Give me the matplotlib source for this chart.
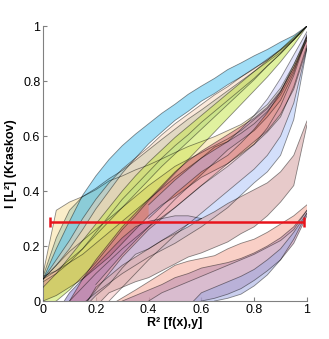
import matplotlib
matplotlib.use("Agg")
import matplotlib.pyplot as plt

plt.rcParams['font.family'] = ['Liberation Sans', 'DejaVu Sans']

X21 = [0, .05, .1, .15, .2, .25, .3, .35, .4, .45, .5, .55, .6, .65, .7, .75, .8, .85, .9, .95, 1]

# group 1 (converging at (1,1))
blue_x = X21
blue_up = [.08, .19, .29, .385, .455, .515, .565, .607, .645, .683, .716, .752, .782, .81, .842, .866, .892, .915, .942, .966, 1]
blue_lo = [.08, .13, .19, .26, .335, .40, .465, .52, .572, .615, .657, .69, .727, .755, .787, .815, .847, .876, .912, .951, 1]

peach_x = X21
peach_up = [.08, .15, .22, .30, .37, .43, .48, .52, .56, .605, .645, .68, .715, .75, .78, .815, .845, .88, .915, .955, 1]
peach_lo = [.07, .10, .14, .19, .25, .31, .37, .42, .47, .52, .565, .605, .65, .69, .73, .77, .81, .855, .90, .95, 1]

sage_x = X21
sage_up = [.09, .23, .33, .38, .41, .445, .475, .512, .55, .588, .625, .662, .695, .73, .765, .80, .835, .87, .905, .95, 1]
sage_lo = [.08, .11, .15, .19, .24, .29, .34, .39, .44, .49, .535, .58, .625, .67, .715, .76, .805, .855, .90, .95, 1]

yellow_x = X21
yellow_up = [.10, .33, .36, .38, .405, .437, .455, .477, .495, .517, .54, .562, .58, .598, .62, .642, .675, .715, .775, .86, .96]
yellow_lo = [.09, .11, .14, .17, .21, .25, .29, .33, .37, .41, .45, .485, .52, .56, .58, .61, .645, .69, .75, .84, .95]

lime_x = X21
lime_up = [.05, .10, .16, .22, .28, .34, .40, .455, .505, .55, .595, .635, .675, .715, .755, .795, .835, .875, .915, .96, 1]
lime_lo = [-.02, .0, .04, .09, .14, .20, .26, .31, .365, .415, .465, .515, .565, .615, .665, .715, .765, .815, .87, .93, 1]

orange_x = X21
orange_up = [.08, .13, .18, .22, .26, .30, .34, .38, .42, .455, .49, .515, .54, .565, .59, .62, .66, .70, .76, .85, .96]
orange_lo = [.0, .02, .05, .08, .12, .16, .21, .26, .31, .35, .38, .415, .45, .475, .50, .535, .57, .615, .67, .78, .93]

# group 2
purple_x = [.08, .1, .15, .2, .25, .3, .35, .4, .45, .5, .55, .6]
purple_up = [0, .03, .08, .13, .18, .23, .27, .29, .30, .31, .31, .30]
purple_lo = [-.1, -.07, -.03, .02, .06, .12, .17, .19, .22, .25, .28, .30]

rose_x = [.1, .15, .2, .25, .3, .35, .4, .45, .5, .55, .6, .65, .7, .75, .8, .85, .9, .95, 1]
rose_up = [0, .08, .15, .21, .27, .32, .37, .42, .47, .51, .545, .575, .605, .635, .665, .705, .765, .85, .95]
rose_lo = [-.08, -.02, .04, .10, .16, .21, .26, .30, .34, .38, .42, .46, .50, .54, .58, .62, .68, .77, .92]

lav_x = [.4, .5, .6, .65, .7, .75, .8, .85, .9, .95, 1]
lav_up = [.35, .44, .52, .55, .58, .625, .675, .735, .81, .895, .98]
lav_lo = [.30, .39, .47, .50, .53, .575, .625, .685, .76, .86, .965]

lpink_x = [.2, .3, .4, .5, .6, .7, .8, .85, .9, .95, 1]
lpink_up = [.06, .17, .27, .37, .46, .55, .62, .67, .73, .83, .97]
lpink_lo = [-.05, .05, .15, .24, .32, .40, .48, .53, .60, .72, .92]

lblue_x = [.1, .2, .3, .4, .5, .6, .7, .8, .85, .9, .95, 1]
lblue_up = [0, .10, .19, .27, .34, .42, .49, .57, .63, .71, .82, .96]
lblue_lo = [-.05, .03, .10, .16, .21, .27, .34, .43, .47, .53, .66, .92]

# group 3
dusty_x = [.15, .2, .25, .3, .35, .4, .45, .5, .55, .6, .65, .7, .75, .8, .85, .9, .95, 1]
dusty_up = [-.03, .05, .09, .13, .16, .19, .22, .245, .27, .30, .325, .355, .38, .405, .43, .47, .53, .655]
dusty_lo = [-.1, -.02, .03, .05, .07, .085, .11, .135, .16, .175, .195, .215, .245, .27, .31, .36, .42, .64]

# group 4
salmon_x = [.28, .35, .4, .45, .5, .55, .6, .65, .7, .75, .8, .85, .9, .95, 1]
salmon_up = [0, .04, .07, .10, .13, .145, .155, .165, .19, .21, .225, .25, .28, .31, .35]
salmon_lo = [-.08, -.05, 0, .03, .05, .07, .09, .11, .13, .15, .17, .195, .22, .26, .33]

mauve_x = [.3, .35, .4, .45, .5, .55, .6, .65, .7, .75, .8, .85, .9, .95, 1]
mauve_up = [0, .02, .04, .06, .085, .10, .12, .13, .14, .155, .175, .20, .23, .27, .33]
mauve_lo = [-.2, -.15, -.12, -.08, -.05, -.02, 0, .01, .025, .045, .075, .11, .15, .21, .31]

peri2_x = [.55, .6, .65, .7, .75, .8, .85, .9, .95, 1]
peri2_up = [-.02, .03, .05, .07, .09, .115, .15, .19, .25, .32]
peri2_lo = [-.1, -.03, 0, .01, .025, .055, .095, .15, .225, .32]

# error bar
err_y = 0.288
err_x0 = 0.027
err_x1 = 0.99

bands = [
    (orange_x, orange_lo, orange_up, '#c07030', 0.55),
    (yellow_x, yellow_lo, yellow_up, '#f8e2a6', 0.6),
    (sage_x, sage_lo, sage_up, '#a8c8b0', 0.55),
    (blue_x, blue_lo, blue_up, '#55c3f0', 0.55),
    (peach_x, peach_lo, peach_up, '#f8d0b0', 0.45),
    (lime_x, lime_lo, lime_up, '#c8e650', 0.55),
    (purple_x, purple_lo, purple_up, '#7060c0', 0.45),
    (lblue_x, lblue_lo, lblue_up, '#a8c0f8', 0.5),
    (rose_x, rose_lo, rose_up, '#d06078', 0.5),
    (lav_x, lav_lo, lav_up, '#b8b8f4', 0.4),
    (lpink_x, lpink_lo, lpink_up, '#f4b8b8', 0.45),
    (dusty_x, dusty_lo, dusty_up, '#d8a8a8', 0.6),
    (salmon_x, salmon_lo, salmon_up, '#f6b0a0', 0.6),
    (mauve_x, mauve_lo, mauve_up, '#c090b0', 0.6),
    (peri2_x, peri2_lo, peri2_up, '#a0a8e0', 0.55),
]

fig = plt.figure(figsize=(3.29, 3.39), dpi=100)
ax = fig.add_axes([0.131, 0.112, 0.802, 0.811])

for xs, lo, up, col, a in bands:
    ax.fill_between(xs, lo, up, facecolor=col, alpha=a, edgecolor='none', zorder=2)
    ax.plot(xs, lo, color='black', alpha=0.45, lw=0.6, zorder=3)
    ax.plot(xs, up, color='black', alpha=0.45, lw=0.6, zorder=3)

ax.errorbar([(err_x0 + err_x1) / 2], [err_y], xerr=[[(err_x1 - err_x0) / 2], [(err_x1 - err_x0) / 2]],
            fmt='none', ecolor='#e8141c', elinewidth=1.8, capsize=3.5, capthick=1.8, zorder=5)

ax.set_xlim(0, 1)
ax.set_ylim(0, 1)
ticks = [0, 0.2, 0.4, 0.6, 0.8, 1]
labels = ['0', '0.2', '0.4', '0.6', '0.8', '1']
ax.set_xticks(ticks)
ax.set_xticklabels(labels)
ax.set_yticks(ticks)
ax.set_yticklabels(labels)
ax.tick_params(direction='in', length=3, color='#808080', labelsize=9, pad=2)
for s in ['top', 'right']:
    ax.spines[s].set_visible(False)
for s in ['left', 'bottom']:
    ax.spines[s].set_color('#808080')
    ax.spines[s].set_linewidth(0.8)
ax.set_xlabel('R\u00b2 [f(x),y]', fontsize=9, fontweight='bold', labelpad=1)
ax.set_ylabel('I [L\u00b2] (Kraskov)', fontsize=9, fontweight='bold', labelpad=4)

fig.savefig('out.png', dpi=100)
